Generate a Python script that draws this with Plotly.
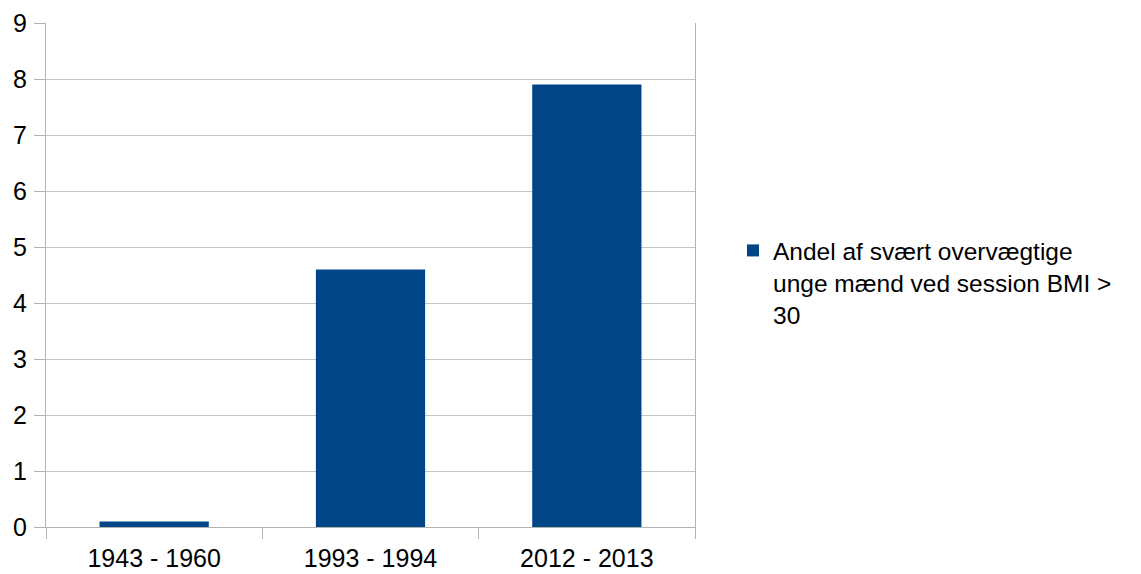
import plotly.graph_objects as go

categories = ["1943 - 1960", "1993 - 1994", "2012 - 2013"]
values = [0.1, 4.6, 7.9]
series_name = "Andel af svært overvægtige<br>unge mænd ved session BMI ><br>30"
y_ticks = list(range(0, 10))

BAR = "#004586"
GRID = "#c6c6c6"
AXIS = "#b3b3b3"
FONT = "Liberation Sans, Arial, sans-serif"

fig = go.Figure()
fig.add_trace(go.Bar(
    x=categories, y=values, name=series_name,
    marker=dict(color=BAR, line=dict(width=0)),
    width=0.505, showlegend=True,
))

fig.update_layout(
    width=1141, height=574,
    margin=dict(l=46, r=446, t=23, b=47, pad=0, autoexpand=False),
    paper_bgcolor="white", plot_bgcolor="white",
    font=dict(family=FONT, size=25, color="black"),
    showlegend=True,
    legend=dict(
        x=(733 - 46) / (695 - 46), xanchor="left",
        y=(527 - 228) / (527 - 23), yanchor="top",
        font=dict(family=FONT, size=24.5, color="black"),
        valign="top", itemwidth=30, tracegroupgap=0,
        bgcolor="rgba(0,0,0,0)",
    ),
    bargap=0.5,
)
fig.update_yaxes(
    range=[0, 9], tickvals=y_ticks, showgrid=True, gridcolor=GRID, gridwidth=1,
    showline=True, linecolor=AXIS, linewidth=1, mirror=True,
    ticks="outside", ticklen=11, tickcolor=AXIS, tickwidth=1,
    zeroline=False, ticklabelstandoff=2, automargin=False,
    tickfont=dict(family=FONT, size=25, color="black"),
)
fig.update_xaxes(
    type="category", showgrid=False, showline=True, linecolor=AXIS, linewidth=1,
    ticks="outside", ticklen=11, tickcolor=AXIS, tickwidth=1,
    tickson="boundaries", ticklabelstandoff=9, automargin=False,
    tickfont=dict(family=FONT, size=25, color="black"),
)

fig.write_html("out.html")
